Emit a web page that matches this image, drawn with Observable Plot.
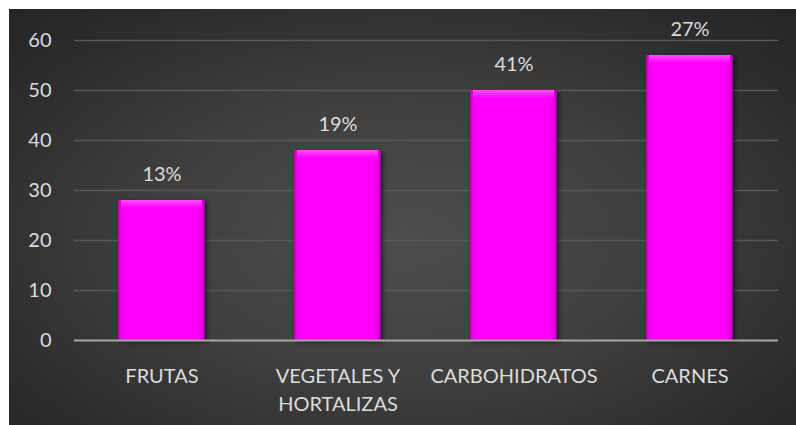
<!DOCTYPE html>
<html>
<head>
<meta charset="utf-8">
<script src="https://cdn.jsdelivr.net/npm/d3@7"></script>
<script src="https://cdn.jsdelivr.net/npm/@observablehq/plot@0.6"></script>
<style>
  html, body { margin: 0; padding: 0; background: #ffffff; }
  #panel {
    position: absolute; left: 9px; top: 9px; width: 787px; height: 416px;
    background: radial-gradient(ellipse 70% 75% at 50% 55%, #4d4d4d 0%, #3f3f3f 45%, #2b2b2b 85%, #262626 100%);
  }
  #panel svg { display: block; }
</style>
</head>
<body>
<div id="panel"></div>
<script>
const categories = ["FRUTAS", "VEGETALES Y\nHORTALIZAS", "CARBOHIDRATOS", "CARNES"];
const values = [28, 38, 50, 57];
const pctLabels = ["13%", "19%", "41%", "27%"];
const yTicks = [0, 10, 20, 30, 40, 50, 60];

const data = categories.map((c, i) => ({cat: c, v: values[i], lbl: pctLabels[i]}));
const textColor = "#dcdcdc";
const font = "Lato, 'Open Sans', sans-serif";

const chart = Plot.plot({
  width: 787,
  height: 416,
  marginTop: 31,
  marginBottom: 85,
  marginLeft: 65,
  marginRight: 18,
  style: {background: "transparent", color: textColor, fontFamily: font, fontSize: "20px"},
  x: {domain: categories, paddingInner: 0.505, paddingOuter: 0.25, label: null},
  y: {domain: [0, 60], label: null},
  marks: [
    Plot.gridY(yTicks.filter(t => t > 0), {stroke: "#595959", strokeOpacity: 1, strokeWidth: 1.5}),
    Plot.axisY({ticks: yTicks, tickSize: 0, tickPadding: 23, fontSize: 20, fill: textColor, label: null}),
    Plot.axisX({tickSize: 0, tickPadding: 23, fontSize: 20, fill: textColor, lineHeight: 1.4, label: null}),
    Plot.barY(data, {x: "cat", y: "v", fill: "url(#barGrad)"}),
    Plot.barY(data, {x: "cat", y1: d => d.v - 1.6, y2: "v", fill: "url(#topGrad)", insetLeft: 3, insetRight: 3}),
    Plot.ruleY([0], {stroke: "#a6a6a6", strokeWidth: 2}),
    Plot.text(data, {x: "cat", y: "v", text: "lbl", dy: -25.5, fill: textColor, fontSize: 20})
  ]
});

const svg = d3.select(chart);
svg.insert("defs", ":first-child").html(`
  <linearGradient id="barGrad" x1="0" x2="1" y1="0" y2="0">
    <stop offset="0%" stop-color="#b800b8"/>
    <stop offset="4%" stop-color="#f000f0"/>
    <stop offset="8%" stop-color="#ff00ff"/>
    <stop offset="92%" stop-color="#ff00ff"/>
    <stop offset="96%" stop-color="#e000e0"/>
    <stop offset="100%" stop-color="#a000a0"/>
  </linearGradient>
  <linearGradient id="topGrad" x1="0" x2="0" y1="0" y2="1">
    <stop offset="0%" stop-color="#ff4dff"/>
    <stop offset="100%" stop-color="#ff00ff"/>
  </linearGradient>
`);
const barGroups = svg.selectAll("g[aria-label='bar']").nodes();
if (barGroups.length) d3.select(barGroups[0]).style("filter", "drop-shadow(2px 2px 2px rgba(0,0,0,0.55))");
document.getElementById("panel").appendChild(chart);
</script>
</body>
</html>
